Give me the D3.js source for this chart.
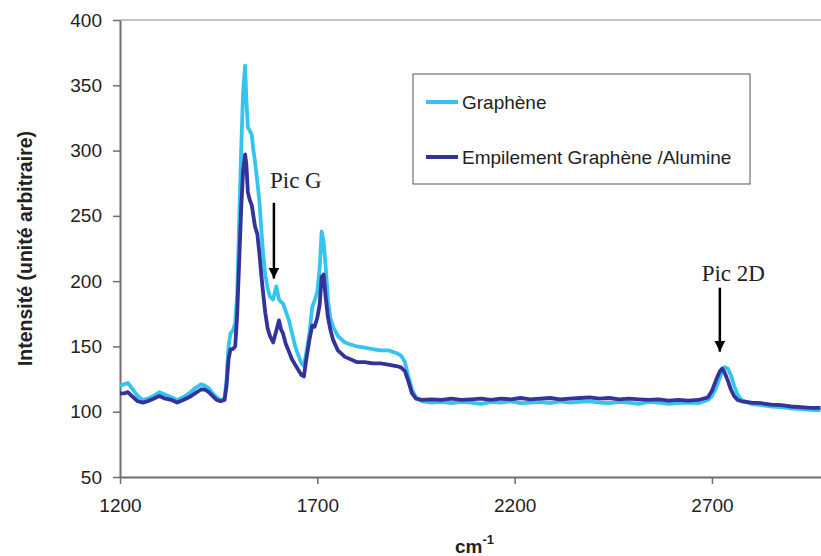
<!DOCTYPE html>
<html><head><meta charset="utf-8">
<script src="https://cdn.jsdelivr.net/npm/d3@7"></script>
<style>
body{margin:0;background:#fff;}
svg{display:block;font-family:"Liberation Sans",Arial,sans-serif;}
</style></head>
<body><svg id="c" width="821" height="556"></svg>
<script>
// Wavenumber grid (cm-1)
const wavenumbers = [1200,1210,1220,1230,1245,1258,1270,1285,1300,1315,1330,1345,1360,1375,1390,1405,1415,1425,1435,1445,1455,1465,1470,1475,1480,1486,1492,1497,1502,1507,1512,1517,1520,1524,1529,1534,1538,1542,1548,1553,1558,1563,1568,1574,1580,1588,1596,1603,1608,1613,1620,1628,1636,1644,1652,1660,1666,1672,1680,1687,1693,1700,1706,1711,1716,1721,1727,1733,1740,1752,1770,1800,1820,1840,1860,1880,1900,1912,1922,1930,1940,1950,
  1965,1990,2015,2040,2065,2090,2115,2140,2165,2190,2215,2240,2265,2290,2315,2340,2365,2390,2415,2440,2465,2490,2515,2540,2565,2590,2615,2640,2665,2690,
  2700,2710,2720,2726,2732,2740,2748,2756,2765,2775,
  2800,2825,2850,2875,2900,2925,2950,2975];
// Graphène
const graphene = [120,121,122,118,112,109,110,112,115,113,111,109,111,114,118,121,120,118,114,111,109,110,125,150,160,162,168,190,245,300,345,365,340,318,315,312,300,292,276,262,240,220,205,195,188,186,196,186,184,183,177,170,160,150,143,137,135,145,160,180,185,192,210,238,230,212,185,172,165,158,153,150,149,148,147,147,145,143,138,128,117,111,
  108,107,107.5,106.5,107.5,107,106,107.5,107,108,106.5,107,107.5,106.5,108,107,107.5,108,107,106.5,107.5,107,106,107.5,107,106,106.5,107,106.5,109,
  112,118,126,131,134,133,128,120,113,109,
  106,105,104,103.5,102.5,102,101.5,101];
// Empilement Graphène /Alumine
const stack = [114,114,115,112,108,107,108,110,112,110,109,107,109,111,114,117,117,115,112,109,108,109,120,140,148,148,150,175,215,255,285,297,290,268,262,258,250,242,236,222,205,190,176,164,158,153,162,170,163,160,152,146,140,136,132,128,127,140,155,166,165,172,182,203,205,188,172,163,155,147,142,138,138,137,137,136,135,134,131,124,114,110,
  109,109.5,109,110,109,109.5,110,109,110,109.5,110.5,109.5,110,110.5,109.5,110,110.5,111,110,110.5,109.5,110,109.5,109,109.5,108.5,109,108.5,109,111,
  116,124,131,133,130,124,117,112,109,108,
  107,106.5,105.5,105,104,103.5,103,103];
const seriesNames = ["Graphène","Empilement Graphène /Alumine"];
const seriesColors = ["#35C4EF","#333399"];
const xTicks = [1200,1700,2200,2700];
const yTicks = [50,100,150,200,250,300,350,400];
const annotations = [
  {label:"Pic G", x:1590, yTop:260, yTip:202, textX:1580, textY:271},
  {label:"Pic 2D", x:2720, yTop:195, yTip:146, textX:2674, textY:200}
];

const svg = d3.select("#c");
const x = d3.scaleLinear().domain([1200,3000]).range([120, 120 + 1800/2.534]);
const y = d3.scaleLinear().domain([50,400]).range([477,20]);

// top border
svg.append("line").attr("x1",120).attr("x2",821).attr("y1",y(400)).attr("y2",y(400))
  .attr("stroke","#8a8a8a").attr("stroke-width",1.2);

const fs = 19;
const yAxis = svg.append("g").attr("transform","translate(120,0)")
  .call(d3.axisLeft(y).tickValues(yTicks).tickFormat(d3.format("d")).tickSize(7).tickPadding(11).tickSizeOuter(0));
const xAxis = svg.append("g").attr("transform","translate(0,477)")
  .call(d3.axisBottom(x).tickValues(xTicks).tickFormat(d3.format("d")).tickSize(7).tickPadding(15).tickSizeOuter(0));
[yAxis,xAxis].forEach(g=>{
  g.select(".domain").attr("stroke","#6e6e6e").attr("stroke-width",2);
  g.selectAll(".tick line").attr("stroke","#6e6e6e").attr("stroke-width",1.5);
  g.selectAll(".tick text").attr("fill","#222").style("font-size",fs+"px")
   .style("font-family",'"Liberation Sans",Arial,sans-serif');
});

// lines
const line = d3.line().x(d=>x(d[0])).y(d=>y(d[1]));
[graphene, stack].forEach((vals,i)=>{
  svg.append("path").datum(wavenumbers.map((w,k)=>[w,vals[k]]))
    .attr("d",line).attr("fill","none").attr("stroke",seriesColors[i])
    .attr("stroke-width",3.8).attr("stroke-linejoin","round");
});

// axis titles
svg.append("text").attr("transform","translate(32,"+((y(50)+y(400))/2)+") rotate(-90)")
  .attr("text-anchor","middle").style("font-size","19.5px").style("font-weight","bold")
  .attr("fill","#222").text("Intensité (unité arbitraire)");
const xt = svg.append("text").attr("x",455).attr("y",553).style("font-size","19px")
  .style("font-weight","bold").attr("fill","#222");
xt.append("tspan").text("cm");
xt.append("tspan").attr("dy",-9).style("font-size","13px").text("-1");

// legend
svg.append("rect").attr("x",413).attr("y",74).attr("width",337).attr("height",110)
  .attr("fill","#fff").attr("stroke","#555").attr("stroke-width",1);
seriesNames.forEach((n,i)=>{
  const yy = 102 + i*55;
  svg.append("line").attr("x1",426).attr("x2",458).attr("y1",yy).attr("y2",yy)
    .attr("stroke",seriesColors[i]).attr("stroke-width",4);
  svg.append("text").attr("x",462).attr("y",yy+7).style("font-size","19px")
    .attr("fill","#222").text(n);
});

// annotations
svg.append("defs").append("marker").attr("id","ah").attr("viewBox","0 0 10 10")
  .attr("refX",10).attr("refY",5).attr("markerWidth",4.4).attr("markerHeight",4.4)
  .attr("markerUnits","strokeWidth").attr("orient","auto")
  .append("path").attr("d","M0,0 L10,5 L0,10 Z").attr("fill","#000");
annotations.forEach(a=>{
  svg.append("line").attr("x1",x(a.x)).attr("x2",x(a.x)).attr("y1",y(a.yTop)).attr("y2",y(a.yTip))
    .attr("stroke","#000").attr("stroke-width",2.5).attr("marker-end","url(#ah)");
  svg.append("text").attr("x",x(a.textX)).attr("y",y(a.textY))
    .style("font-family",'"Liberation Serif","Times New Roman",serif').style("font-size","23px")
    .attr("fill","#222").text(a.label);
});
</script></body></html>
